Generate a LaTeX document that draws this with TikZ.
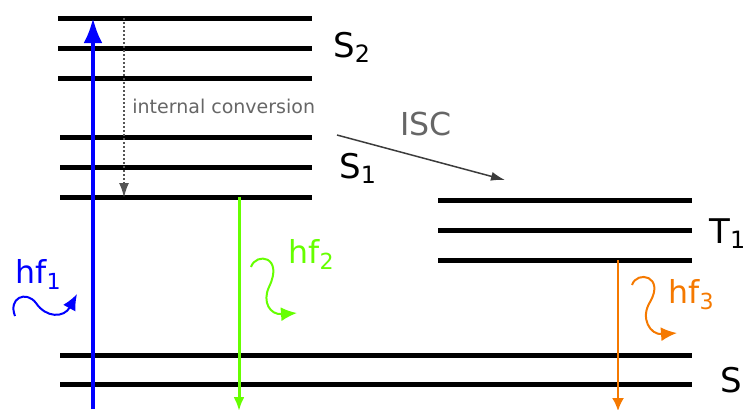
\documentclass[tikz,border=0pt]{standalone}
\usepackage{fontspec}
\setmainfont{DejaVu Sans}
\usetikzlibrary{arrows.meta}
\definecolor{lgreen}{RGB}{102,255,0}
\definecolor{orng}{RGB}{245,121,0}
\definecolor{dgray}{RGB}{60,60,60}
\definecolor{mgray}{RGB}{85,85,85}
\definecolor{tgray}{RGB}{102,102,102}

\begin{document}
\begin{tikzpicture}[x=0.5pt,y=-0.5pt,
    level/.style={line width=2.5pt},
    slabel/.style={anchor=base west,inner sep=0pt,font=\fontsize{17}{20}\selectfont},
    hflabel/.style={anchor=base west,inner sep=0pt,font=\fontsize{15.8}{18}\selectfont},
    wave/.style={line width=1pt,-{Latex[length=8pt,width=7pt]}}]
    \useasboundingbox (0,0) rectangle (747,409);
    %livelli energetici
    \foreach \y in {18,48,78} \draw[level](58,\y)--(312,\y);
    \foreach \y in {137,167,197} \draw[level](60,\y)--(312,\y);
    \foreach \y in {200,230,260} \draw[level](438,\y)--(692,\y);
    \foreach \y in {355,384} \draw[level](60,\y)--(692,\y);
    %etichette
    \node[slabel] (s2) at (333,57) {S\textsubscript{2}};
    \node[slabel] (s1) at (339,178) {S\textsubscript{1}};
    \node[slabel] (t1) at (709,243) {T\textsubscript{1}};
    \node[slabel] (s0) at (720,392) {S};
    \node[anchor=base west,inner sep=0pt,text=tgray,font=\fontsize{9.5}{11}\selectfont] (ic) at (132,113) {internal conversion};
    \node[anchor=base west,inner sep=0pt,text=tgray,font=\fontsize{15.8}{18}\selectfont] (isc) at (400,135) {ISC};
    \node[hflabel,text=blue] (hf1) at (15,283) {hf\textsubscript{1}};
    \node[hflabel,text=lgreen] (hf2) at (288,263) {hf\textsubscript{2}};
    \node[hflabel,text=orng] (hf3) at (668,303) {hf\textsubscript{3}};
    %punti delle transizioni
    \coordinate (abs0) at (93,409);
    \coordinate (abs1) at (93,18);
    \coordinate (ic0) at (124,18);
    \coordinate (ic1) at (124,198);
    \coordinate (isc0) at (337,135);
    \coordinate (isc1) at (505,180);
    \coordinate (fl0) at (239,197);
    \coordinate (fl1) at (239,411);
    \coordinate (ph0) at (618,260);
    \coordinate (ph1) at (618,411);
    %transizioni
    \draw[blue,line width=2pt,-{Latex[length=12.5pt,width=9.5pt]}](abs0)--(abs1);
    \draw[mgray,line width=1.2pt,dash pattern=on 1pt off 1pt,-{Latex[length=7.5pt,width=5pt]}](ic0)--(ic1);
    \draw[dgray,line width=0.75pt,-{Latex[length=7pt,width=4.5pt]}](isc0)--(isc1);
    \draw[lgreen,line width=1.5pt,-{Latex[length=7pt,width=5.5pt]}](fl0)--(fl1);
    \draw[orng,line width=1pt,-{Latex[length=6.5pt,width=6pt]}](ph0)--(ph1);
    %fotoni
    \coordinate (w1a) at (15,316);
    \coordinate (w1b) at (77,294);
    \coordinate (w2a) at (251,267);
    \coordinate (w2b) at (297,313);
    \coordinate (w3a) at (632,285);
    \coordinate (w3b) at (677,333);
    \draw[wave,blue](w1a)..controls (8,298) and (26,290)..(36,303)..controls (46,318) and (64,318)..(w1b);
    \draw[wave,lgreen](w2a)..controls (256,252) and (284,256)..(269,287)..controls (262,302) and (270,315)..(w2b);
    \draw[wave,orng](w3a)..controls (637,270) and (665,276)..(650,302)..controls (640,318) and (650,335)..(w3b);
\end{tikzpicture}
\end{document}
